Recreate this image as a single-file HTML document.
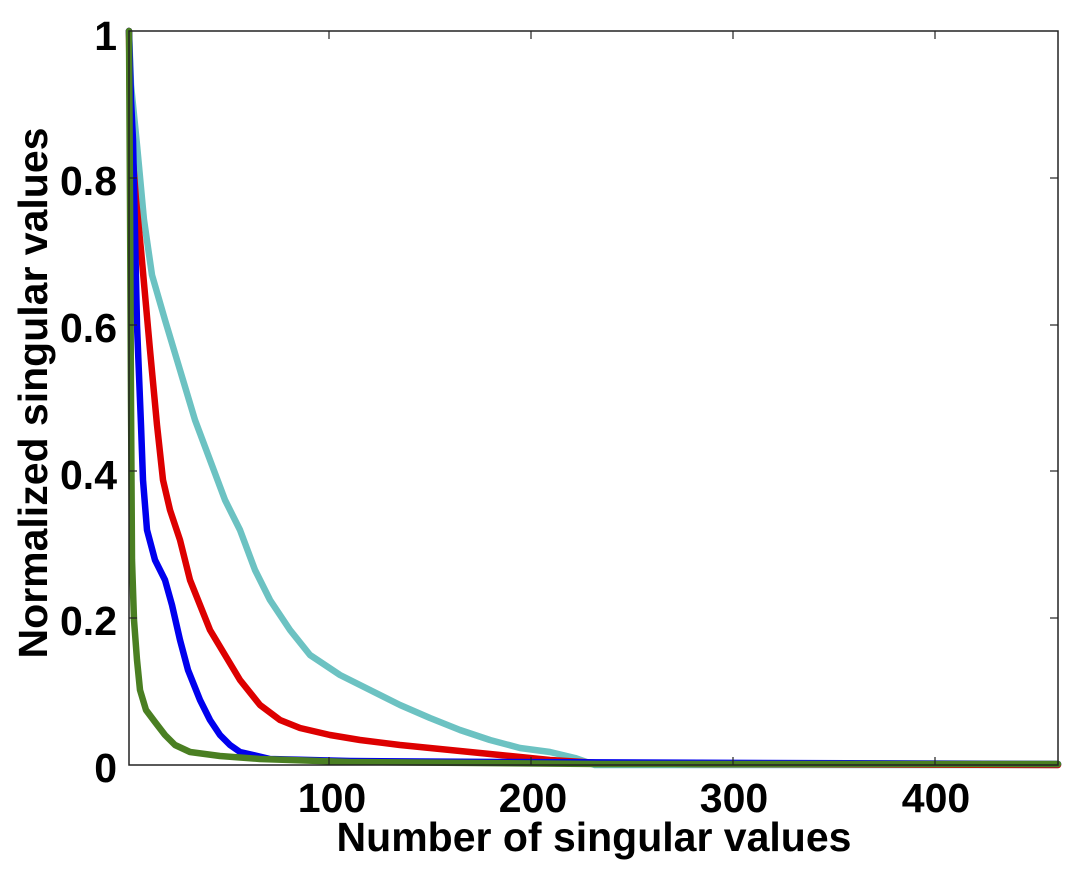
<!DOCTYPE html>
<html><head><style>body{margin:0;background:#fff}</style></head><body>
<svg width="1066" height="866" xmlns="http://www.w3.org/2000/svg" style="font-family:'Liberation Sans',sans-serif;font-weight:bold">
<rect width="1066" height="866" fill="#fff"/>
<g fill="none" stroke-width="6.5" stroke-linejoin="round" stroke-linecap="round">
<polyline stroke="#6cc2c2" points="129,31 131,85 137,145 144,220 152,275 165,320 180,370 195,420 210,460 225,500 240,530 255,570 270,600 290,630 310,655 340,675 370,690 400,705 430,718 460,730 490,740 520,748 550,752 575,758 595,765 1058,765"/>
<polyline stroke="#dd0000" points="129,31 130,120 136,200 141,250 150,350 157,425 163,480 170,510 180,540 190,580 200,605 210,630 225,655 240,680 260,705 280,720 300,728 330,735 360,740 400,745 450,750 500,755 550,760 600,763 700,764 1058,765"/>
<polyline stroke="#0000ee" points="129,31 131,100 133,140 137,325 141,425 143,480 147,530 155,560 165,580 172,605 180,640 188,670 200,700 210,720 220,735 230,745 240,752 270,759 350,761 500,762 1058,764"/>
<polyline stroke="#4a7f22" points="129,31 130,200 131,400 132,560 134,620 137,660 140,690 146,710 155,722 165,735 175,745 190,752 220,756 260,759 350,762 600,764 1058,764"/>
</g>
<rect x="129" y="31" width="929" height="734" fill="none" stroke="#222" stroke-width="1.5"/>
<g stroke="#222" stroke-width="1.2">
<line x1="329" y1="765" x2="329" y2="757"/><line x1="531" y1="765" x2="531" y2="757"/><line x1="733" y1="765" x2="733" y2="757"/><line x1="935" y1="765" x2="935" y2="757"/>
<line x1="329" y1="31" x2="329" y2="39"/><line x1="531" y1="31" x2="531" y2="39"/><line x1="733" y1="31" x2="733" y2="39"/><line x1="935" y1="31" x2="935" y2="39"/>
<line x1="129" y1="618" x2="137" y2="618"/><line x1="129" y1="471" x2="137" y2="471"/><line x1="129" y1="325" x2="137" y2="325"/><line x1="129" y1="178" x2="137" y2="178"/>
<line x1="1058" y1="618" x2="1050" y2="618"/><line x1="1058" y1="471" x2="1050" y2="471"/><line x1="1058" y1="325" x2="1050" y2="325"/><line x1="1058" y1="178" x2="1050" y2="178"/>
</g>
<g font-size="41" text-anchor="end">
<text x="117" y="50">1</text><text x="117" y="195">0.8</text><text x="117" y="342">0.6</text><text x="117" y="489">0.4</text><text x="117" y="635">0.2</text><text x="117" y="782">0</text>
</g>
<g font-size="41" text-anchor="middle">
<text x="332" y="812">100</text><text x="533" y="812">200</text><text x="734" y="812">300</text><text x="936" y="812">400</text>
<text x="594" y="851">Number of singular values</text>
<text transform="translate(47,393) rotate(-90)">Normalized singular values</text>
</g>
</svg>
</body></html>
